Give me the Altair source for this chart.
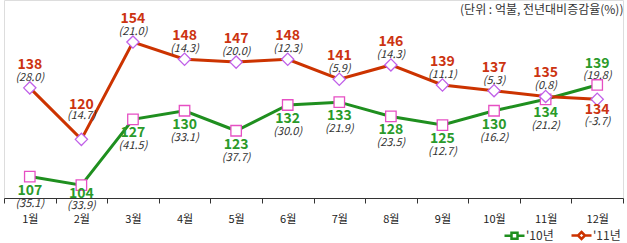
import altair as alt
import pandas as pd

months = ["1월", "2월", "3월", "4월", "5월", "6월", "7월", "8월", "9월", "10월", "11월", "12월"]
v10 = [107, 104, 127, 130, 123, 132, 133, 128, 125, 130, 134, 139]
p10 = ["(35.1)", "(33.9)", "(41.5)", "(33.1)", "(37.7)", "(30.0)", "(21.9)", "(23.5)", "(12.7)", "(16.2)", "(21.2)", "(19.8)"]
v11 = [138, 120, 154, 148, 147, 148, 141, 146, 139, 137, 135, 134]
p11 = ["(28.0)", "(14.7)", "(21.0)", "(14.3)", "(20.0)", "(12.3)", "(5.9)", "(14.3)", "(11.1)", "(5.3)", "(0.8)", "(-3.7)"]
series = ["'10년", "'11년"]

rows = []
for i, m in enumerate(months):
    rows.append({"month": m, "idx": i, "series": series[0], "value": v10[i], "pct": p10[i]})
    rows.append({"month": m, "idx": i, "series": series[1], "value": v11[i], "pct": p11[i]})
df = pd.DataFrame(rows)

GREEN = "#1f8f1f"
RED = "#cc3300"
GREEN_T = "#2a9a2a"
RED_T = "#cc3311"
FONT = "Noto Sans CJK KR"

x = alt.X("month:O", sort=months,
          scale=alt.Scale(type="band", paddingInner=0, paddingOuter=0),
          axis=alt.Axis(title=None, tickBand="extent", labelAngle=0, labelFontSize=11,
                        labelColor="#222", labelFont=FONT, labelPadding=10,
                        domainColor="#333", tickColor="#333", tickSize=5, grid=False))
y = alt.Y("value:Q", scale=alt.Scale(domain=[99.5, 168.7], nice=False, zero=False), axis=None)

base = alt.Chart(df).encode(x=x, y=y)
s10 = alt.datum.series == series[0]
s11 = alt.datum.series == series[1]

line10 = base.transform_filter(s10).mark_line(strokeWidth=3, stroke=GREEN)
line11 = base.transform_filter(s11).mark_line(strokeWidth=3, stroke=RED)

pts10 = base.transform_filter(s10).mark_point(
    shape="square", size=110, filled=True, fill="white", stroke="#e64fc3", strokeWidth=1.3, opacity=1)
pts11 = base.transform_filter(s11).mark_point(
    shape="diamond", size=150, filled=True, fill="white", stroke="#c060e8", strokeWidth=1.3, opacity=1)

def lbl(filt, dy_v, dy_p, color):
    b = base.transform_filter(filt)
    t1 = b.mark_text(dy=dy_v, fontSize=14, fontWeight="bold", color=color, font=FONT).encode(text="value:Q")
    t2 = b.mark_text(dy=dy_p, fontSize=11, fontStyle="italic", color="#333", font=FONT).encode(text="pct:N")
    return [t1, t2]

g_below = "datum.series == \"'10년\" && datum.idx < 11 && datum.idx != 1"
g_near = "datum.series == \"'10년\" && datum.idx == 1"
g_above = "datum.series == \"'10년\" && datum.idx == 11"
r_above = "datum.series == \"'11년\" && datum.idx < 11 && datum.idx != 1"
r_far = "datum.series == \"'11년\" && datum.idx == 1"
r_below = "datum.series == \"'11년\" && datum.idx == 11"

texts = []
texts += lbl(g_below, 14, 27, GREEN_T)
texts += lbl(g_near, 9, 21, GREEN_T)
texts += lbl(g_above, -21, -9, GREEN_T)
texts += lbl(r_above, -23, -10, RED_T)
texts += lbl(r_far, -34, -23, RED_T)
texts += lbl(r_below, 11, 23, RED_T)

sq_path = "M-1,0H-0.3M0.3,0H1M-0.3,-0.3H0.3V0.3H-0.3Z"
dm_path = "M-1,0H-0.35M0.35,0H1M0,-0.35L0.35,0L0,0.35L-0.35,0Z"
leg = alt.Legend(title=None, orient="none", legendX=499, legendY=224,
                 direction="horizontal", symbolSize=400, symbolStrokeWidth=2.5,
                 labelFontSize=12, labelFont=FONT, labelColor="#333",
                 symbolFillColor="white", symbolOpacity=1, columnPadding=12, labelOffset=0)
legend_layer = base.mark_point(filled=False, opacity=0, strokeWidth=2).encode(
    shape=alt.Shape("series:N", scale=alt.Scale(domain=series, range=[sq_path, dm_path]), legend=leg),
    stroke=alt.Stroke("series:N", scale=alt.Scale(domain=series, range=[GREEN, RED]), legend=leg))

chart = alt.layer(line10, line11, pts10, pts11, *texts, legend_layer).properties(
    width=619, height=198,
    title=alt.TitleParams("(단위 : 억불, 전년대비증감율(%))", anchor="end", fontSize=12,
                          fontWeight="normal", font=FONT, color="#333", dy=17, offset=0),
    autosize=alt.AutoSizeParams(type="none"),
    padding={"left": 4, "top": 0, "right": 4, "bottom": 45},
).configure_view(stroke=None).configure(background="white")

chart.save("out.html", embed_options={"renderer": "svg", "actions": False})
